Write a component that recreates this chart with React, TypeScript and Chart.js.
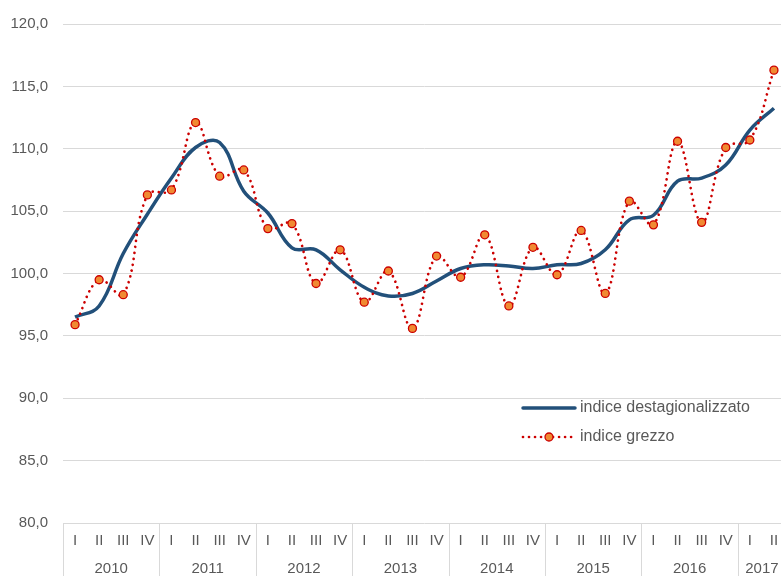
import React, { useEffect, useRef } from "react";
import { Chart, registerables } from "chart.js";

Chart.register(...registerables);

const years = ["2010", "2011", "2012", "2013", "2014", "2015", "2016", "2017"];
const quarters = ["I", "II", "III", "IV"];
const lastYearQuarters = 2;

const seasonallyAdjusted = [
  96.5, 97.4, 101.6, 104.75, 107.65, 110.1, 110.5, 106.6,
  104.85, 102.06, 101.9, 100.3, 98.9, 98.2, 98.4, 99.4,
  100.4, 100.7, 100.6, 100.4, 100.7, 100.8, 101.9, 104.3,
  104.67, 107.4, 107.65, 108.7, 111.5, 113.25,
];

const rawIndex = [
  95.9, 99.5, 98.3, 106.3, 106.7, 112.1, 107.8, 108.3,
  103.6, 104.0, 99.2, 101.9, 97.7, 100.2, 95.6, 101.4,
  99.7, 103.1, 97.4, 102.1, 99.9, 103.45, 98.4, 105.8,
  103.9, 110.6, 104.1, 110.1, 110.7, 116.3,
];

const seriesNames = ["indice destagionalizzato", "indice grezzo"];

const labels: string[] = [];
const groups: { year: string; start: number; end: number }[] = [];
years.forEach((y, yi) => {
  const n = yi === years.length - 1 ? lastYearQuarters : quarters.length;
  const start = labels.length;
  for (let q = 0; q < n; q++) labels.push(quarters[q]);
  groups.push({ year: y, start, end: labels.length - 1 });
});

const FONT = "'Liberation Sans', Arial, sans-serif";
const TEXT = "#595959";
const GRID = "#d9d9d9";
const BLUE = "#22507a";
const RED = "#cc0000";
const ORANGE = "#f08a32";

const yearPlugin = {
  id: "yearRow",
  afterDraw(chart: any) {
    const ctx = chart.ctx;
    const xs = chart.scales.x;
    const half = (xs.getPixelForValue(1) - xs.getPixelForValue(0)) / 2;
    ctx.save();
    ctx.strokeStyle = GRID;
    ctx.lineWidth = 1;
    ctx.fillStyle = TEXT;
    ctx.font = `15px ${FONT}`;
    ctx.textAlign = "center";
    ctx.textBaseline = "middle";
    groups.forEach((g) => {
      const x = Math.round(xs.getPixelForValue(g.start) - half) + 0.5;
      ctx.beginPath();
      ctx.moveTo(x, xs.top);
      ctx.lineTo(x, chart.height);
      ctx.stroke();
      const cx = (xs.getPixelForValue(g.start) + xs.getPixelForValue(g.end)) / 2;
      ctx.fillText(g.year, cx, xs.top + 46);
    });
    ctx.restore();
  },
};

const legendPlugin = {
  id: "innerLegend",
  afterDraw(chart: any) {
    const ctx = chart.ctx;
    const x0 = 523;
    const x1 = 575;
    const rows = [408, 437];
    ctx.save();
    ctx.strokeStyle = BLUE;
    ctx.lineWidth = 3.5;
    ctx.lineCap = "round";
    ctx.beginPath();
    ctx.moveTo(x0, rows[0]);
    ctx.lineTo(x1, rows[0]);
    ctx.stroke();
    ctx.strokeStyle = RED;
    ctx.lineWidth = 2.7;
    ctx.setLineDash([0.01, 6]);
    ctx.beginPath();
    ctx.moveTo(x0, rows[1]);
    ctx.lineTo(x1, rows[1]);
    ctx.stroke();
    ctx.setLineDash([]);
    ctx.beginPath();
    ctx.arc((x0 + x1) / 2, rows[1], 4, 0, Math.PI * 2);
    ctx.fillStyle = ORANGE;
    ctx.fill();
    ctx.lineWidth = 1.3;
    ctx.strokeStyle = RED;
    ctx.stroke();
    ctx.fillStyle = TEXT;
    ctx.font = `16px ${FONT}`;
    ctx.textAlign = "left";
    ctx.textBaseline = "middle";
    ctx.fillText(seriesNames[0], x1 + 5, rows[0]);
    ctx.fillText(seriesNames[1], x1 + 5, rows[1]);
    ctx.restore();
  },
};

export default function App() {
  const ref = useRef<HTMLCanvasElement | null>(null);
  useEffect(() => {
    if (!ref.current) return;
    document.body.style.overflow = "hidden";
    const chart = new Chart(ref.current, {
      type: "line",
      data: {
        labels,
        datasets: [
          {
            label: seriesNames[0],
            data: seasonallyAdjusted,
            borderColor: BLUE,
            borderWidth: 3.5,
            tension: 0.4,
            pointRadius: 0,
            fill: false,
            order: 1,
          },
          {
            label: seriesNames[1],
            data: rawIndex,
            borderColor: RED,
            borderWidth: 2.7,
            borderDash: [0.01, 6],
            borderCapStyle: "round",
            tension: 0.4,
            pointRadius: 4,
            pointBackgroundColor: ORANGE,
            pointBorderColor: RED,
            pointBorderWidth: 1.3,
            fill: false,
            order: 0,
          },
        ],
      },
      options: {
        responsive: false,
        animation: false,
        layout: { padding: { top: 22, right: 14, left: 0, bottom: 0 } },
        plugins: {
          legend: { display: false },
          tooltip: { enabled: false },
        },
        scales: {
          x: {
            type: "category",
            offset: true,
            grid: { display: false, drawTicks: false },
            border: { display: false },
            ticks: {
              color: TEXT,
              font: { size: 15, family: FONT },
              padding: 9,
              maxRotation: 0,
              autoSkip: false,
            },
            afterFit: (s: any) => {
              s.height = 53;
            },
          },
          y: {
            min: 80,
            max: 120,
            grid: { color: GRID, lineWidth: 1, drawTicks: false },
            border: { display: false },
            ticks: {
              stepSize: 5,
              color: TEXT,
              font: { size: 15, family: FONT },
              padding: 15,
              callback: (v: any) => Number(v).toFixed(1).replace(".", ","),
            },
            afterFit: (s: any) => {
              s.width = 63;
            },
          },
        },
      },
      plugins: [yearPlugin, legendPlugin],
    });
    return () => chart.destroy();
  }, []);
  return (
    <div style={{ position: "fixed", left: 0, top: 0, width: 800, height: 576 }}>
      <canvas ref={ref} width={800} height={576} />
    </div>
  );
}
